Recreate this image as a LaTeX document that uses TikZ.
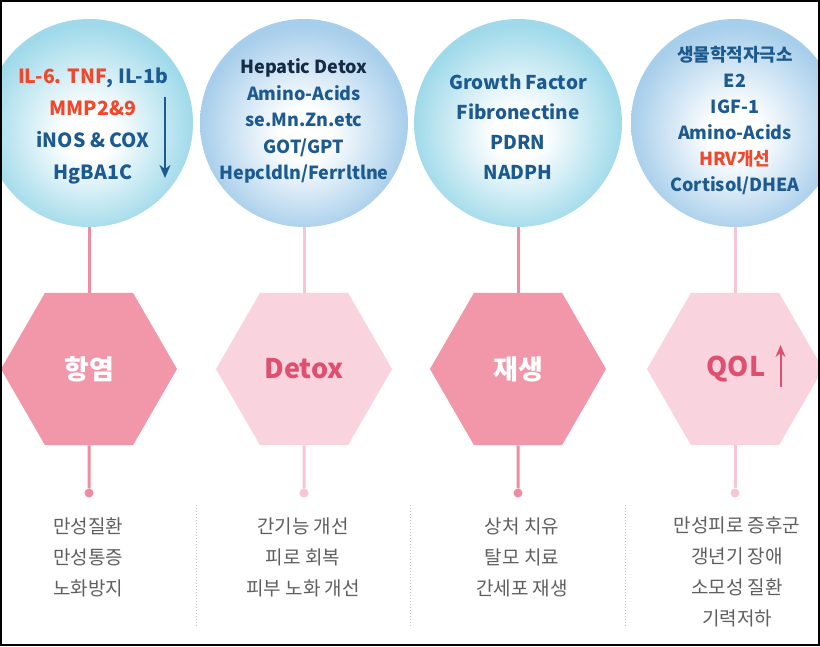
\documentclass[tikz,border=0pt]{standalone}
\usepackage{fontspec}
\setmainfont{Noto Sans CJK KR}
\usepackage{tikz}
\usetikzlibrary{shapes.geometric,arrows.meta,positioning}

\definecolor{cyanedge}{HTML}{A0DAEA}
\definecolor{blueedge}{HTML}{A7CEEB}
\definecolor{txtblue}{HTML}{1D5A90}
\definecolor{txtred}{HTML}{F2472A}
\definecolor{txtnavy}{HTML}{152A45}
\definecolor{hexdark}{HTML}{F296AA}
\definecolor{hexlight}{HTML}{F9D4DE}
\definecolor{stemdark}{HTML}{EF8CA1}
\definecolor{stemlight}{HTML}{F7C6D2}
\definecolor{pinklabel}{HTML}{DF4F70}
\definecolor{graytext}{HTML}{5F5F5F}
\definecolor{divgray}{HTML}{C4C4C4}

\pgfdeclareradialshading{bubblecyan}{\pgfpoint{0bp}{-3bp}}{color(0bp)=(white); color(6bp)=(white); color(25bp)=(cyanedge); color(50bp)=(cyanedge)}
\pgfdeclareradialshading{bubbleblue}{\pgfpoint{0bp}{-3bp}}{color(0bp)=(white); color(6bp)=(white); color(25bp)=(blueedge); color(50bp)=(blueedge)}

\newcommand\BubbleY{123}
\newcommand\HexY{369}
\newcommand\DotY{493}
\newcommand\NoteY{557}

\tikzset{
  bubble/.style={
    shape = circle,
    minimum size = 208pt,
    inner sep = 0pt,
    draw = none
  },
  bubbletxt/.style={
    align = center,
    font = \bfseries,
    text = txtblue,
    inner sep = 0pt
  },
  hexdark/.style={
    shape = regular polygon,
    regular polygon sides = 6,
    minimum size = 176pt,
    inner sep = 0pt,
    fill = hexdark,
    text = white,
    font = \fontsize{27}{27}\selectfont\bfseries
  },
  hexlight/.style={
    hexdark,
    fill = hexlight,
    text = pinklabel
  },
  stemdark/.style={
    draw = stemdark,
    line width = 3pt
  },
  stemlight/.style={
    draw = stemlight,
    line width = 3pt
  },
  dotdark/.style={
    shape = circle,
    inner sep = 0pt,
    minimum size = 9pt,
    fill = stemdark
  },
  dotlight/.style={
    dotdark,
    fill = stemlight
  },
  note/.style={
    align = center,
    text = graytext,
    font = \fontsize{19}{31}\selectfont
  },
  divider/.style={
    draw = divgray,
    line width = 1pt,
    dotted
  }
}

\begin{document}
\begin{tikzpicture}[x=1pt,y=-1pt]
  \useasboundingbox (0,0) rectangle (820,646);
  \begin{scope}
    \clip (0,0) rectangle (820,646);
    \fill[white] (0,0) rectangle (820,646);

    % top bubbles
    \node[bubble, shading=bubblecyan] (c1) at (89,\BubbleY) {};
    \node[bubble, shading=bubbleblue] (c2) at (304,\BubbleY) {};
    \node[bubble, shading=bubblecyan] (c3) at (518,\BubbleY) {};
    \node[bubble, shading=bubbleblue] (c4) at (735,\BubbleY) {};

    \node[bubbletxt, font=\fontsize{19.5}{32}\selectfont\bfseries] (c1txt) at (93,126)
      {\textcolor{txtred}{IL-6. TNF}, IL-1b\\\textcolor{txtred}{MMP2\&9}\\iNOS \& COX\\HgBA1C};
    \node[bubbletxt, font=\fontsize{18}{26.5}\selectfont\bfseries] (c2txt) at (304,121)
      {\textcolor{txtnavy}{Hepatic Detox}\\Amino-Acids\\se.Mn.Zn.etc\\GOT/GPT\\Hepcldln/Ferrltlne};
    \node[bubbletxt, font=\fontsize{19}{30}\selectfont\bfseries] (c3txt) at (518,127)
      {Growth Factor\\Fibronectine\\PDRN\\NADPH};
    \node[bubbletxt, font=\fontsize{18}{26}\selectfont\bfseries] (c4txt) at (735,121)
      {생물학적자극소\\E2\\IGF-1\\Amino-Acids\\\textcolor{txtred}{HRV개선}\\Cortisol/DHEA};

    \coordinate (a1s) at (165,97);
    \coordinate (a1e) at (165,178);
    \draw[txtblue, line width=2pt, -{Stealth[length=13pt,width=11pt,inset=4pt]}] (a1s) -- (a1e);

    % hexagons
    \node[hexdark] (h1) at (89,\HexY) {항염};
    \node[hexlight] (h2) at (304,\HexY) {Detox};
    \node[hexdark] (h3) at (518,\HexY) {재생};
    \node[hexlight] (h4) at (735,\HexY) {};
    \node[font=\fontsize{27}{27}\selectfont\bfseries, text=pinklabel, inner sep=0pt] (q4) at (736,\HexY) {QOL};
    \draw[pinklabel, line width=2pt, -{Stealth[length=12pt,width=10pt,inset=4pt]}]
      ([xshift=15pt,yshift=-18pt]q4.east) -- ([xshift=15pt,yshift=24pt]q4.east);

    % stems and dots
    \node[dotdark] (d1) at (89,\DotY) {};
    \node[dotlight] (d2) at (304,\DotY) {};
    \node[dotdark] (d3) at (518,\DotY) {};
    \node[dotlight] (d4) at (735,\DotY) {};

    \draw[stemdark] (c1) -- (h1);
    \draw[stemlight] (c2) -- (h2);
    \draw[stemdark] (c3) -- (h3);
    \draw[stemlight] (c4) -- (h4);
    \draw[stemdark] (h1) -- (d1);
    \draw[stemlight] (h2) -- (d2);
    \draw[stemdark] (h3) -- (d3);
    \draw[stemlight] (h4) -- (d4);

    % notes
    \node[note] (t1) at (88,\NoteY) {만성질환\\만성통증\\노화방지};
    \node[note] (t2) at (303,\NoteY) {간기능 개선\\피로 회복\\피부 노화 개선};
    \node[note] (t3) at (522,\NoteY) {상처 치유\\탈모 치료\\간세포 재생};
    \node[note] (t4) at (737,572) {만성피로 증후군\\갱년기 장애\\소모성 질환\\기력저하};

    \coordinate (v1a) at (196,505); \coordinate (v1b) at (196,628);
    \coordinate (v2a) at (410,505); \coordinate (v2b) at (410,628);
    \coordinate (v3a) at (625,505); \coordinate (v3b) at (625,628);
    \draw[divider] (v1a) -- (v1b);
    \draw[divider] (v2a) -- (v2b);
    \draw[divider] (v3a) -- (v3b);
  \end{scope}
  \draw[black, line width=2pt] (1,1) rectangle (819,645);
\end{tikzpicture}
\end{document}
